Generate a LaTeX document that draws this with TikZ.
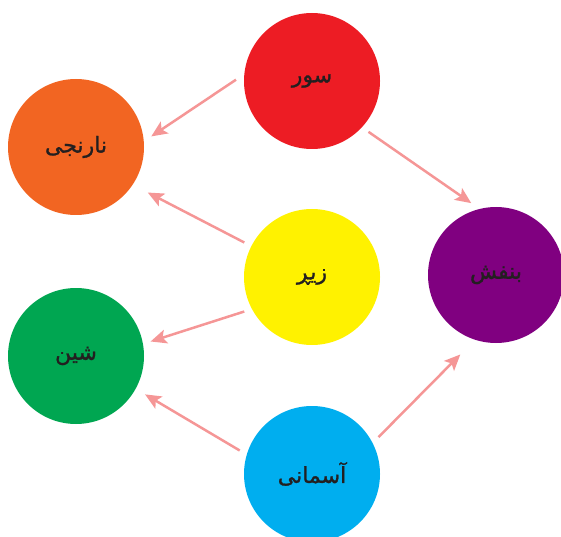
\documentclass[tikz,border=0pt]{standalone}
\usepackage{fontspec}
\usetikzlibrary{arrows.meta}
\TeXXeTstate=1
\newfontfamily\arabicfont[Script=Arabic,FakeBold=1.2]{DejaVu Sans}
\definecolor{DiscRed}   {RGB}{237, 28, 36}
\definecolor{DiscOrange}{RGB}{242,101, 34}
\definecolor{DiscYellow}{RGB}{255,242,  0}
\definecolor{DiscPurple}{RGB}{128,  0,128}
\definecolor{DiscGreen} {RGB}{  0,166, 81}
\definecolor{DiscBlue}  {RGB}{  0,174,239}
\definecolor{LinkPink}  {RGB}{245,150,150}
\definecolor{InkD}      {RGB}{ 35, 31, 32}
\tikzset{
  disc/.style={circle,minimum size=136pt,inner sep=0pt,outer sep=8pt,
    text=InkD,font=\arabicfont\fontsize{22}{26}\selectfont},
  link/.style={LinkPink,line width=2.5pt,-{Stealth[length=16pt,width=14pt,inset=3.5pt]}}
}
\begin{document}
\begin{tikzpicture}[x=1pt,y=1pt]
        \useasboundingbox (0,0) rectangle (561,536);
        \begin{scope}
        \clip (0,0) rectangle (561,536);
        \node[disc,fill=DiscRed]    (sor)     at (312,455) {\beginR سور\endR};
        \node[disc,fill=DiscOrange] (narenji) at (76,389)  {\beginR نارنجی\endR};
        \node[disc,fill=DiscYellow] (zer)     at (312,259) {\beginR زیڕ\endR};
        \node[disc,fill=DiscPurple] (benefsh) at (496,261) {\beginR بنفش\endR};
        \node[disc,fill=DiscGreen]  (shin)    at (76,180)  {\beginR شین\endR};
        \node[disc,fill=DiscBlue]   (asmani)  at (312,62)  {\beginR آسمانی\endR};
        \end{scope}
        % connectors between the discs
        \foreach \a/\b/\g in {sor.179/narenji.8/0, zer.153/narenji.-33/9,
                              zer.207/shin.11/0, asmani.162/shin.-29/3,
                              sor.-42/benefsh.109/0, asmani.29/benefsh.249/12}{
          \draw[link,shorten >=\g pt] (\a) -- (\b);}
      \end{tikzpicture}
\end{document}
